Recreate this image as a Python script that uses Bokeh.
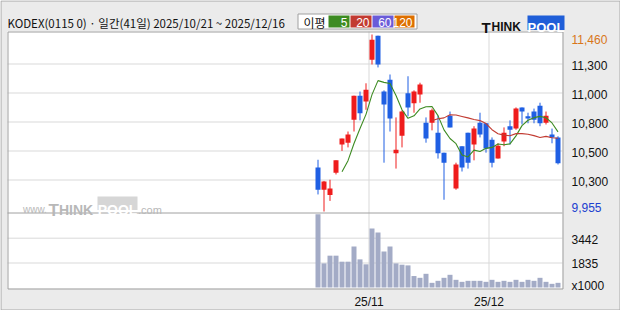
import numpy as np
import pandas as pd
from bokeh.plotting import figure
from bokeh.models import Range1d, Label, ColumnDataSource
from bokeh.embed import file_html
from bokeh.resources import INLINE

# ---------------- data ----------------
dates = ["2025-10-21", "2025-10-22", "2025-10-23", "2025-10-24", "2025-10-27",
         "2025-10-28", "2025-10-29", "2025-10-30", "2025-10-31", "2025-11-03",
         "2025-11-04", "2025-11-05", "2025-11-06", "2025-11-07", "2025-11-10",
         "2025-11-11", "2025-11-12", "2025-11-13", "2025-11-14", "2025-11-17",
         "2025-11-18", "2025-11-19", "2025-11-20", "2025-11-21", "2025-11-24",
         "2025-11-25", "2025-11-26", "2025-11-27", "2025-11-28", "2025-12-01",
         "2025-12-02", "2025-12-03", "2025-12-04", "2025-12-05", "2025-12-08",
         "2025-12-09", "2025-12-10", "2025-12-11", "2025-12-12", "2025-12-15",
         "2025-12-16"]
opens = [10330, 10140, 10095, 10285, 10525, 10540, 10735, 10940, 10890, 11245,
         11450, 10975, 11075, 10450, 10600, 10960, 10875, 10950, 10710, 10710,
         10625, 10455, 10770, 10150, 10510, 10625, 10525, 10710, 10705, 10565,
         10405, 10550, 10680, 10660, 10840, 10765, 10805, 10855, 10710, 10610,
         10585]
highs = [10395, 10215, 10225, 10390, 10575, 10635, 10940, 10975, 11045, 11460,
         11450, 10985, 11120, 10755, 10815, 11105, 10985, 11050, 10755, 10830,
         10770, 10455, 10805, 10370, 10510, 10625, 10680, 10795, 10705, 10585,
         10535, 10670, 10730, 10840, 10840, 10795, 10830, 10880, 10805, 10660,
         10595]
lows = [10100, 9955, 10045, 10270, 10470, 10500, 10635, 10730, 10820, 11205,
        11180, 10370, 10635, 10320, 10500, 10765, 10795, 10880, 10540, 10645,
        10405, 10055, 10670, 10140, 10295, 10320, 10390, 10585, 10455, 10330,
        10405, 10510, 10525, 10650, 10695, 10705, 10705, 10680, 10695, 10535,
        10355]
closes = [10140, 10210, 10150, 10390, 10575, 10610, 10940, 10790, 10990, 11415,
          11205, 10865, 10745, 10480, 10805, 10840, 10975, 11035, 10575, 10815,
          10450, 10370, 10670, 10355, 10330, 10370, 10660, 10610, 10490, 10370,
          10515, 10625, 10650, 10830, 10805, 10745, 10735, 10705, 10770, 10585,
          10365]
volumes = [4990, 1810, 2310, 2310, 1920, 1920, 2900, 2070, 1750, 4075,
           3815, 2575, 2900, 1810, 1725, 1680, 990, 875, 1135, 550,
           680, 875, 1070, 745, 615, 680, 680, 680, 615, 745,
           615, 680, 615, 745, 615, 745, 680, 875, 615, 485,
           550]  # x1000

price_grid_labels = ["11,300", "11,000", "10,800", "10,500", "10,300"]
vol_grid_values = [3442, 1835]
vol_grid_labels = ["3442", "1835"]
vol_unit_label = "x1000"
ma_periods = [5, 20, 60, 120]
ma_colors = ["#3d8b22", "#c23b32", "#6a5cd8", "#dd6f00"]
title_text = "KODEX(0115 0) · 일간(41일) 2025/10/21 ~ 2025/12/16"
legend_title = "이평"

# ---------------- geometry (canvas pixels, origin top-left) ----------------
W, H = 620, 310
FL, FR, FT, FB = 7, 562, 31, 288      # chart area
SPLIT_PX = 212.5                       # price / volume separator
SLOT = 6.0
FIRST_PX = 317.5
HI_PX, LO_PX = 34.0, 211.0
VG_TOP_PX, VG_BOT_PX = 237.7, 262.5

n = len(dates)
idx = np.arange(n)
p_hi, p_lo = max(highs), min(lows)
k = (p_hi - p_lo) / (LO_PX - HI_PX)
kv = (vol_grid_values[0] - vol_grid_values[1]) / (VG_BOT_PX - VG_TOP_PX)


def X(px):
    return (px - FIRST_PX) / SLOT


def P(py):
    return p_hi - (py - HI_PX) * k


def V(py):
    return vol_grid_values[0] - (py - VG_TOP_PX) * kv


price_grid_px = [63.5, 92.5, 121.5, 150.5, 179.5]
price_grid_values = [P(v) for v in price_grid_px]

dts = pd.to_datetime(dates)
month_ticks, month_labels = [], []
for i in range(1, n):
    if dts[i].month != dts[i - 1].month:
        month_ticks.append(i - 0.5)
        month_labels.append(dts[i].strftime("%y/%m"))

# ---------------- figure (frame == whole canvas) ----------------
p = figure(width=W, height=H, x_range=Range1d(X(0), X(W)), y_range=Range1d(P(H), P(0)),
           output_backend="svg", toolbar_location=None,
           x_axis_location=None, y_axis_location=None,
           min_border=0, min_border_left=0, min_border_right=0,
           min_border_top=0, min_border_bottom=0,
           background_fill_color="#ebebeb", border_fill_color="#ebebeb",
           outline_line_color=None)
p.title.visible = False
p.xgrid.visible = False
p.ygrid.visible = False
p.extra_y_ranges = {"vol": Range1d(V(H), V(0))}

# chart area background
p.quad(left=[X(FL)], right=[X(FR)], top=[P(FT)], bottom=[P(FB)],
       fill_color="white", line_color=None)

# grid lines (limited to the chart area)
GRID_C = "#d9d9d9"
p.segment(x0=[X(FL)] * len(price_grid_values), x1=[X(FR)] * len(price_grid_values),
          y0=price_grid_values, y1=price_grid_values, line_color=GRID_C, line_width=1)
p.segment(x0=[X(FL)] * len(vol_grid_values), x1=[X(FR)] * len(vol_grid_values),
          y0=vol_grid_values, y1=vol_grid_values, line_color=GRID_C, line_width=1,
          y_range_name="vol")
p.segment(x0=month_ticks, x1=month_ticks, y0=[P(FT)] * len(month_ticks),
          y1=[P(FB)] * len(month_ticks), line_color=GRID_C, line_width=1)

# volume bars
vsrc = ColumnDataSource(dict(x=idx, v=volumes))
p.vbar(x="x", width=5 / 6, top="v", bottom=V(FB - 1), source=vsrc, y_range_name="vol",
       fill_color="#a3abc6", line_color=None)

# candles
UP, DOWN = "#ef1c1c", "#1f5fe3"
colors = [UP if c >= o else DOWN for o, c in zip(opens, closes)]
csrc = ColumnDataSource(dict(
    x=idx, o=opens, h=highs, l=lows, c=closes,
    top=[max(o, c) for o, c in zip(opens, closes)],
    bot=[min(o, c) for o, c in zip(opens, closes)],
    col=colors))
p.segment(x0="x", y0="l", x1="x", y1="h", line_color="col", line_width=1,
          source=csrc)
p.vbar(x="x", width=5 / 6, top="top", bottom="bot", fill_color="col",
       line_color=None, source=csrc)

# moving averages
cs = pd.Series(closes, dtype=float)
for per, colr in zip(ma_periods, ma_colors):
    ma = cs.rolling(per).mean()
    if ma.notna().sum() == 0:
        continue
    p.line(idx, ma.to_numpy(), line_color=colr, line_width=1.1)

# chart area border + pane separator
p.quad(left=[X(FL + 0.5)], right=[X(FR + 0.5)], top=[P(FT + 0.5)], bottom=[P(FB + 0.5)],
       fill_color=None, line_color="#a0a0a0", line_width=1)
p.segment(x0=[X(FL)], x1=[X(FR)], y0=[P(SPLIT_PX)], y1=[P(SPLIT_PX)],
          line_color="#a0a0a0", line_width=1)

# ---------------- texts ----------------
FONT_NUM = "Liberation Sans"
LBL_X = 571


def txt(px, py, s, color="#111111", size="12px", align="left", font=FONT_NUM,
        style="normal", baseline="middle"):
    p.add_layout(Label(x=X(px), y=P(py), text=s, text_font=font, text_font_size=size,
                       text_font_style=style, text_align=align,
                       text_baseline=baseline, text_color=color))


for lab, py in zip(price_grid_labels, price_grid_px):
    txt(LBL_X, py + 1.5, lab)
txt(LBL_X, 38.5, f"{p_hi:,}", color="#d8761a")
txt(LBL_X, 206.5, f"{p_lo:,}", color="#2040d0")
for lab, v in zip(vol_grid_labels, vol_grid_values):
    py = VG_TOP_PX + (vol_grid_values[0] - v) / kv
    txt(LBL_X, py + 0.8, lab)
txt(LBL_X, 285.5, vol_unit_label)
for t, lab in zip(month_ticks, month_labels):
    p.add_layout(Label(x=t, y=P(301.5), text=lab, text_font=FONT_NUM,
                       text_font_size="12px", text_baseline="middle",
                       text_align="center", text_color="#111111"))

# title
txt(7, 22.5, title_text, font="Noto Sans CJK KR", size="11.5px")

# MA legend box
p.quad(left=[X(297.5)], right=[X(416.5)], top=[P(13.5)], bottom=[P(28.5)],
       fill_color="white", line_color="#a0a0a0", line_width=1)
txt(303, 21.5, legend_title, font="Noto Sans CJK KR")
box_l = [328, 350, 372, 394]
box_r = [349, 371, 393, 414]
p.quad(left=[X(v) for v in box_l], right=[X(v) for v in box_r],
       top=[P(15)] * 4, bottom=[P(27)] * 4, fill_color=ma_colors, line_color=None)
for per, br in zip(ma_periods, box_r):
    txt(br - 2, 21.5, str(per), color="white", align="right")

# logo
txt(481, 26.5, "T", size="15px", style="bold", baseline="alphabetic")
txt(491, 26.5, "HINK", size="12px", style="bold", baseline="alphabetic")
p.quad(left=[X(527)], right=[X(564)], top=[P(15)], bottom=[P(29.5)],
       fill_color="#1f5ed8", line_color=None)
txt(545.5, 27.0, "POOL", color="white", size="13px", style="bold", align="center",
    baseline="alphabetic")

# watermark
WM = "#b8b8b8"
txt(22.5, 209, "www.", color=WM, size="10px", baseline="alphabetic")
txt(48, 209.5, "T", color=WM, size="17px", style="bold", baseline="alphabetic")
txt(58.5, 209.5, "HINK", color=WM, size="14px", style="bold", baseline="alphabetic")
p.quad(left=[X(97)], right=[X(137)], top=[P(196)], bottom=[P(209.5)],
       fill_color="#d6d6d6", line_color=None)
txt(117, 209, "POOL", color="white", size="14px", style="bold", align="center",
    baseline="alphabetic")
txt(137.5, 209, ".com", color=WM, size="11px", baseline="alphabetic")

# outer border
p.quad(left=[X(0.5)], right=[X(W - 0.5)], top=[P(0.5)], bottom=[P(H - 0.5)],
       fill_color=None, line_color="#a8a8a8", line_width=1)

open("out.html", "w").write(file_html(p, INLINE))
